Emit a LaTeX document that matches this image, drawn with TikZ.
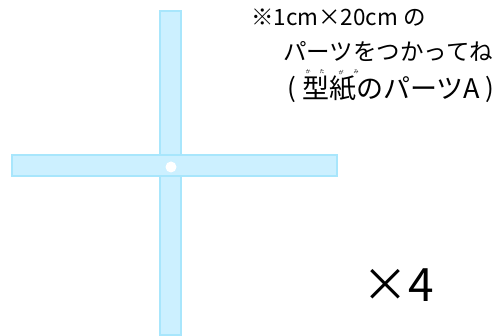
\documentclass[tikz,border=0pt]{standalone}
\usepackage{fontspec}
\newfontfamily\jp{Noto Sans CJK JP}
\begin{document}
\begin{tikzpicture}[x=1pt,y=-1pt]
\definecolor{barline}{HTML}{A8E6FC}
\definecolor{barfill}{HTML}{CCF0FF}
\tikzset{
  bar/.style={draw=barline, fill=barfill, line width=2pt, inner sep=0pt},
  txt/.style={inner sep=0pt, anchor=west, font=\jp},
  ruby/.style={inner sep=0pt, font=\jp\fontsize{5}{5}\selectfont}
}
\useasboundingbox (0,0) rectangle (504,336);
\node[bar, minimum width=21pt, minimum height=324pt] (vbar) at (170,173) {};
\node[bar, minimum width=325pt, minimum height=21pt] (hbar) at (174,166) {};
\node[circle, fill=white, inner sep=0pt, minimum size=11pt] (hole) at (171,167) {};
\node[txt, font=\jp\fontsize{22.5}{25}\selectfont] (l1) at (251,18) {※1cm×20cm の};
\node[txt, font=\jp\fontsize{23.5}{25}\selectfont] (l2) at (283,52) {パーツをつかってね};
\node[txt, font=\jp\fontsize{26}{26}\selectfont] (l3a) at (287,89) {(};
\node[txt, font=\jp\fontsize{27}{27}\selectfont] (l3b) at (302,89) {型紙のパーツA};
\node[txt, font=\jp\fontsize{26}{26}\selectfont] (l3c) at (485,89) {)};
\node[ruby] (r1) at (308,72) {か};
\node[ruby] (r2) at (322,72) {た};
\node[ruby] (r3) at (341,72) {が};
\node[ruby] (r4) at (356,72) {み};
\node[txt, font=\jp\fontsize{46}{46}\selectfont] (x4) at (362,285) {×4};
\end{tikzpicture}
\end{document}
